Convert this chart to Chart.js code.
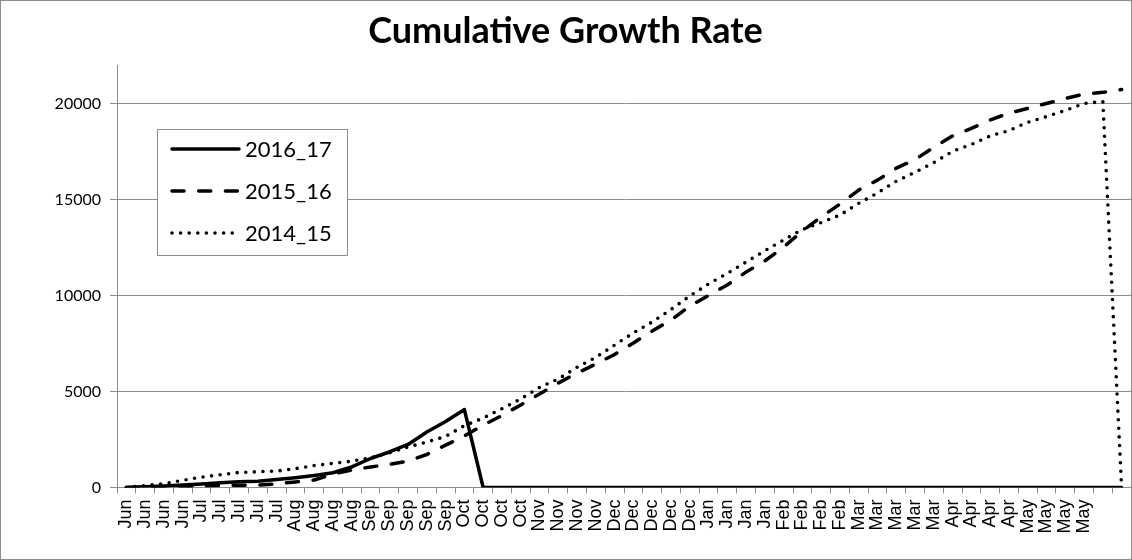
<!DOCTYPE html>
<html>
<head>
<meta charset="utf-8">
<script src="https://cdn.jsdelivr.net/npm/chart.js@4"></script>
<style>
  html, body { margin: 0; padding: 0; background: #fff; }
  #wrap { width: 1132px; height: 560px; }
</style>
</head>
<body>
<div id="wrap"><canvas id="growthChart" width="1132" height="560"></canvas></div>
<script>
// weekly categories, Jun -> May, plus two unlabelled slots at the end
const weekLabels = [
    'Jun', 'Jun', 'Jun', 'Jun',
    'Jul', 'Jul', 'Jul', 'Jul', 'Jul',
    'Aug', 'Aug', 'Aug', 'Aug',
    'Sep', 'Sep', 'Sep', 'Sep', 'Sep',
    'Oct', 'Oct', 'Oct', 'Oct',
    'Nov', 'Nov', 'Nov', 'Nov',
    'Dec', 'Dec', 'Dec', 'Dec', 'Dec',
    'Jan', 'Jan', 'Jan', 'Jan',
    'Feb', 'Feb', 'Feb', 'Feb',
    'Mar', 'Mar', 'Mar', 'Mar', 'Mar',
    'Apr', 'Apr', 'Apr', 'Apr',
    'May', 'May', 'May', 'May',
    '', ''
];

const yTickValues = [0, 5000, 10000, 15000, 20000];

const season2016_17 = [
    0, 40, 80, 130, 180, 245, 300, 330, 420, 510,
    620, 770, 1070, 1510, 1850, 2240, 2890, 3440, 4060, 0,
    0, 0, 0, 0, 0, 0, 0, 0, 0, 0,
    0, 0, 0, 0, 0, 0, 0, 0, 0, 0,
    0, 0, 0, 0, 0, 0, 0, 0, 0, 0,
    0, 0, 0, 0
];

const season2015_16 = [
    0, 20, 30, 50, 80, 105, 115, 130, 190, 290,
    390, 700, 910, 1070, 1200, 1380, 1720, 2210, 2680, 3250,
    3750, 4300, 4870, 5440, 5960, 6430, 6930, 7530, 8150, 8720,
    9450, 10000, 10550, 11220, 11800, 12520, 13360, 14090, 14760, 15490,
    16010, 16630, 17080, 17720, 18310, 18700, 19140, 19500, 19740, 20000,
    20260, 20490, 20580, 20730
];

const season2014_15 = [
    10, 100, 200, 375, 540, 665, 785, 820, 855, 980,
    1140, 1255, 1370, 1550, 1800, 2110, 2370, 2660, 3220, 3620,
    4100, 4610, 5210, 5650, 6260, 6780, 7420, 8050, 8620, 9270,
    9970, 10600, 11150, 11740, 12330, 12890, 13440, 13800, 14190, 14800,
    15340, 15950, 16420, 16920, 17510, 17870, 18310, 18590, 19020, 19320,
    19640, 20000, 20100, 0
];

const axisGray = '#8c8c8c';

// white page + thin chart border
const chartFrame = {
    id: 'chartFrame',
    beforeDraw(chart) {
        const ctx = chart.ctx;
        ctx.save();
        ctx.fillStyle = '#fff';
        ctx.fillRect(0, 0, chart.width, chart.height);
        ctx.strokeStyle = axisGray;
        ctx.lineWidth = 1;
        ctx.strokeRect(0.5, 0.5, chart.width - 1, chart.height - 1);
        ctx.restore();
    }
};

// boxed legend sitting inside the plot, drawn from the dataset styles
const boxLegend = {
    id: 'boxLegend',
    afterDraw(chart, args, opts) {
        const ctx = chart.ctx;
        ctx.save();
        ctx.fillStyle = '#fff';
        ctx.fillRect(opts.x, opts.y, opts.width, opts.height);
        ctx.strokeStyle = opts.borderColor;
        ctx.lineWidth = 1;
        ctx.strokeRect(opts.x + 0.5, opts.y + 0.5, opts.width, opts.height);

        chart.data.datasets.forEach((ds, i) => {
            const y = opts.y + opts.firstRow + i * opts.rowGap;
            ctx.beginPath();
            ctx.lineWidth = ds.borderWidth;
            ctx.strokeStyle = ds.borderColor;
            ctx.lineCap = ds.borderCapStyle || 'butt';
            ctx.setLineDash(ds.borderDash || []);
            ctx.moveTo(opts.x + opts.sampleStart, y);
            ctx.lineTo(opts.x + opts.sampleEnd, y);
            ctx.stroke();
            ctx.setLineDash([]);

            ctx.fillStyle = '#000';
            ctx.font = opts.font;
            ctx.textBaseline = 'middle';
            ctx.fillText(ds.label, opts.x + opts.textStart, y + 1);
        });
        ctx.restore();
    }
};

const ctx = document.getElementById('growthChart').getContext('2d');

new Chart(ctx, {
    type: 'line',
    data: {
        labels: weekLabels,
        datasets: [
            {
                label: '2016_17',
                data: season2016_17,
                borderColor: '#000',
                borderWidth: 3.5,
                borderCapStyle: 'round',
                borderJoinStyle: 'round'
            },
            {
                label: '2015_16',
                data: season2015_16,
                borderColor: '#000',
                borderWidth: 3.5,
                borderDash: [12, 14.7],
                borderCapStyle: 'round',
                borderJoinStyle: 'round'
            },
            {
                label: '2014_15',
                data: season2014_15,
                borderColor: '#000',
                borderWidth: 3.6,
                borderDash: [0, 8.6],
                borderCapStyle: 'round',
                borderJoinStyle: 'round'
            }
        ]
    },
    options: {
        responsive: false,
        animation: false,
        devicePixelRatio: 1,
        layout: { padding: { left: 0, right: 1, top: 0, bottom: 0 } },
        elements: {
            point: { radius: 0, hoverRadius: 0 },
            line: { tension: 0, fill: false }
        },
        scales: {
            x: {
                offset: true,
                grid: {
                    display: true,
                    drawOnChartArea: false,
                    drawTicks: true,
                    offset: true,
                    tickLength: 6,
                    color: axisGray,
                    tickColor: axisGray
                },
                border: { display: true, color: axisGray },
                ticks: {
                    autoSkip: false,
                    maxRotation: 90,
                    minRotation: 90,
                    padding: 6,
                    color: '#000',
                    font: { family: 'Liberation Sans', size: 18 }
                },
                afterFit: (scale) => {
                    scale.height = 72.5;
                    scale.paddingLeft = 0;
                    scale.paddingRight = 0;
                }
            },
            y: {
                min: 0,
                max: 22000,
                afterBuildTicks: (scale) => {
                    scale.ticks = yTickValues.map(v => ({ value: v }));
                },
                ticks: {
                    autoSkip: false,
                    padding: 9,
                    color: '#000',
                    font: { family: 'Lato', size: 16 },
                    callback: (value) => String(value)
                },
                grid: {
                    color: axisGray,
                    tickColor: axisGray,
                    tickLength: 7
                },
                border: { display: true, color: axisGray },
                afterFit: (scale) => { scale.width = 117; }
            }
        },
        plugins: {
            legend: { display: false },
            tooltip: { enabled: false },
            title: {
                display: true,
                text: 'Cumulative Growth Rate',
                color: '#000',
                font: { family: 'Lato', size: 36, weight: 'bold' },
                padding: { top: 9.4, bottom: 12.5 }
            },
            boxLegend: {
                x: 157,
                y: 129,
                width: 190,
                height: 126,
                firstRow: 20,
                rowGap: 42,
                sampleStart: 15,
                sampleEnd: 82,
                textStart: 88,
                borderColor: '#5b9bd5',
                font: '22px Lato'
            }
        }
    },
    plugins: [chartFrame, boxLegend]
});
</script>
</body>
</html>
